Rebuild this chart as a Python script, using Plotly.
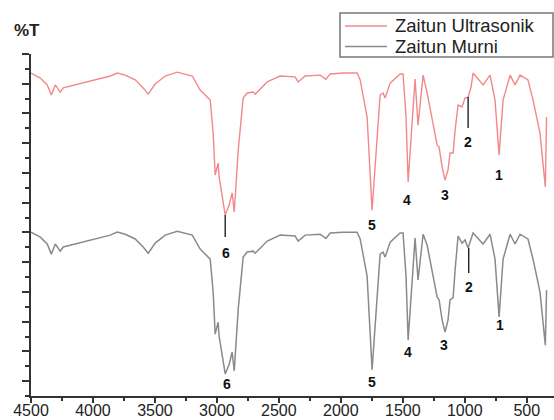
import plotly.graph_objects as go

# wavenumber (cm-1)
wavenumber = [4500, 4425, 4369, 4336, 4304, 4264, 4240, 4078, 3860, 3804, 3740, 3659,
              3595, 3554, 3498, 3417, 3320, 3199, 3135, 3054, 3030, 3014, 2990, 2982,
              2933, 2901, 2877, 2860, 2828, 2788, 2756, 2707, 2691, 2594, 2490, 2369,
              2344, 2288, 2167, 2120, 2086, 1981, 1869, 1844, 1788, 1748, 1707, 1683,
              1659, 1643, 1602, 1522, 1498, 1474, 1457, 1425, 1401, 1377, 1336, 1304,
              1256, 1223, 1207, 1183, 1159, 1135, 1119, 1094, 1078, 1054, 1022, 998,
              973, 949, 933, 852, 796, 756, 723, 691, 634, 594, 554, 490, 449, 393,
              350, 340]

# %T (offset scale) of the two spectra
zaitun_ultrasonik = [103.6, 101.9, 99.6, 96.2, 99.6, 97.2, 98.6, 100.2, 102.6, 103.6, 102.9, 101.3,
                     98.6, 96.5, 99.9, 102.6, 103.9, 102.6, 97.9, 94.5, 83.4, 69.3, 73.3, 68.6,
                     55.9, 59.2, 63.3, 56.9, 77.7, 95.2, 96.9, 97.2, 96.5, 100.6, 102.6, 102.3,
                     100.6, 102.6, 102.9, 101.5, 103.3, 103.6, 103.6, 101.3, 88.8, 57.5, 83.4, 96.2,
                     96.9, 95.2, 100.2, 103.3, 103.3, 88.8, 67.0, 88.8, 101.6, 86.1, 102.9, 96.9,
                     86.8, 79.4, 78.7, 72.0, 67.6, 71.0, 76.7, 76.7, 84.4, 92.8, 92.2, 95.2,
                     95.5, 98.9, 103.6, 99.6, 102.9, 94.5, 76.0, 94.5, 102.9, 99.6, 102.9, 101.3, 94.5, 83.4,
                     65.3, 88.8]

zaitun_murni = [50.1, 48.4, 46.1, 42.7, 46.1, 43.7, 45.1, 46.7, 49.1, 50.1, 49.4, 47.8,
                45.1, 43.0, 46.4, 49.1, 50.4, 49.1, 44.4, 41.0, 29.9, 15.8, 19.8, 15.1,
                2.4, 5.7, 9.8, 3.4, 24.2, 41.7, 43.4, 43.7, 43.0, 47.1, 49.1, 48.8,
                47.1, 49.1, 49.4, 48.0, 49.8, 50.1, 50.1, 47.8, 35.3, 3.8, 29.9, 42.7,
                43.4, 41.7, 46.7, 49.8, 49.8, 35.3, 13.8, 35.3, 48.1, 34.0, 49.4, 45.8,
                35.0, 28.3, 27.3, 20.6, 16.5, 20.6, 27.3, 28.0, 37.4, 48.8, 46.4, 47.5,
                44.8, 47.5, 49.8, 46.1, 49.4, 41.0, 21.6, 41.0, 49.4, 46.1, 49.4, 47.8, 41.0, 29.9,
                12.1, 30.6]

x_tick_values = [4500, 4000, 3500, 3000, 2500, 2000, 1500, 1000, 500]
x_tick_labels = ["4500", "4000", "3500", "3000", "2500", "2000", "1500", "1000", "500"]

series_names = ["Zaitun Ultrasonik", "Zaitun Murni"]

# peak numbers: (label, x, y) for each spectrum
peaks_ultrasonik = [("6", 2925, 43.1), ("5", 1748, 52.5), ("4", 1465, 60.9),
                    ("3", 1159, 62.6), ("2", 973, 80.4), ("1", 723, 69.3)]
peaks_murni = [("6", 2917, -1.0), ("5", 1748, -0.3), ("4", 1457, 9.8),
               ("3", 1167, 12.1), ("2", 965, 31.7), ("1", 715, 18.9)]
# short pointer lines: (x, y_from, y_to)
pointers = [(2933, 55.9, 48.5), (973, 95.5, 85.1), (968, 44.8, 36.4)]

RED = "#f2888a"
GRAY = "#8a8a8a"

fig = go.Figure()
fig.add_trace(go.Scatter(x=wavenumber, y=zaitun_ultrasonik, mode="lines", name=series_names[0],
                         line=dict(color=RED, width=1.4), showlegend=False))
fig.add_trace(go.Scatter(x=wavenumber, y=zaitun_murni, mode="lines", name=series_names[1],
                         line=dict(color=GRAY, width=1.5), showlegend=False))

annotations = []
label_font = dict(family="Liberation Sans Narrow, Arial Narrow, Arial", size=14, color="#111", weight="bold")
for lab, x, y in peaks_ultrasonik + peaks_murni:
    annotations.append(dict(x=x, y=y, xref="x", yref="y", text=lab, showarrow=False,
                            font=label_font, xanchor="center", yanchor="middle"))

shapes = []
for x, y0, y1 in pointers:
    shapes.append(dict(type="line", xref="x", yref="y", x0=x, x1=x, y0=y0, y1=y1,
                       line=dict(color="#111", width=1.3)))

# legend box drawn by hand
L, T, B, W, H = 31, 54, 24, 554, 420
pw, ph = W - L, H - T - B
def px(xp):
    return (xp - L) / pw
def py(yp):
    return (H - B - yp) / ph

shapes.append(dict(type="rect", xref="paper", yref="paper", x0=px(340), x1=px(553), y0=py(57), y1=py(13),
                   line=dict(color="#777", width=1.5), fillcolor="white", layer="above"))
for name, col, yp in [(series_names[0], RED, 26), (series_names[1], GRAY, 46.5)]:
    shapes.append(dict(type="line", xref="paper", yref="paper", x0=px(345), x1=px(387), y0=py(yp), y1=py(yp),
                       line=dict(color=col, width=1.5), layer="above"))
    annotations.append(dict(x=px(393), y=py(yp), xref="paper", yref="paper", text=name, showarrow=False,
                            xanchor="left", yanchor="middle",
                            font=dict(family="Arial, Liberation Sans", size=18.5, color="#222")))

annotations.append(dict(x=px(27), y=py(30), xref="paper", yref="paper", text="%T", showarrow=False,
                        xanchor="center", yanchor="middle",
                        font=dict(family="Arial, Liberation Sans", size=17, color="#222", weight="bold")))

fig.update_layout(
    template="none",
    width=W, height=H,
    margin=dict(l=L, r=0, t=T, b=B, pad=0),
    paper_bgcolor="white", plot_bgcolor="white",
    showlegend=False,
    annotations=annotations,
    shapes=shapes,
    xaxis=dict(range=[4500, 280], tickmode="array", tickvals=x_tick_values, ticktext=x_tick_labels,
               ticks="outside", ticklen=5, tickwidth=1.5, tickcolor="#333",
               showline=True, linecolor="#333", linewidth=2, showgrid=False, zeroline=False,
               automargin=False, ticklabelstandoff=-6,
               tickfont=dict(family="Arial, Liberation Sans", size=16, color="#222"),
               minor=dict(ticks="outside", ticklen=3, dtick=250, tick0=0, tickcolor="#333",
                          tickwidth=1.5, showgrid=False)),
    yaxis=dict(range=[-5, 110], tick0=0, dtick=10, ticks="outside", ticklen=7, tickwidth=1.5,
               tickcolor="#333", showticklabels=False, showline=True, linecolor="#333",
               linewidth=2, showgrid=False, zeroline=False, automargin=False,
               minor=dict(ticks="outside", ticklen=4, dtick=5, tick0=0, tickcolor="#333",
                          tickwidth=1.5, showgrid=False)),
)

fig.write_html("out.html", config={"displayModeBar": False},
               post_script="document.body.style.margin='0';document.body.style.overflow='hidden';")
